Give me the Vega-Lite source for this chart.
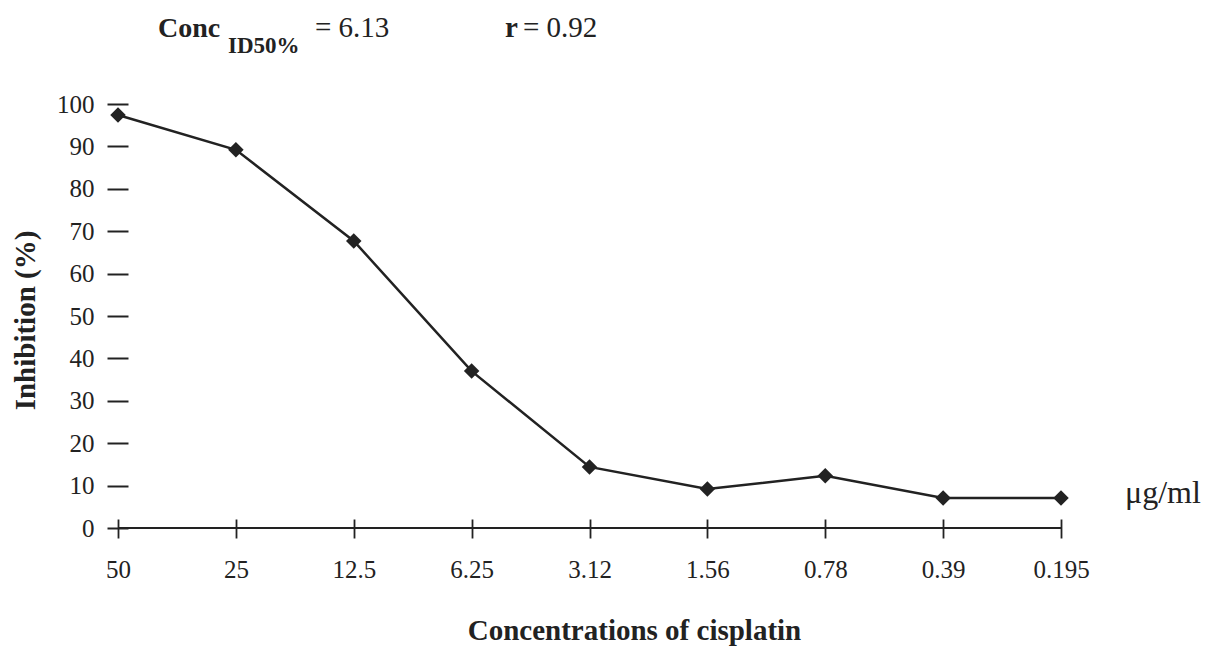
{
  "$schema": "https://vega.github.io/schema/vega-lite/v6.json",
  "autosize": "none",
  "width": 943,
  "height": 424,
  "padding": {"left": 118, "top": 104, "right": 145, "bottom": 118},
  "background": "white",
  "config": {
    "view": {"stroke": null},
    "font": "Liberation Serif",
    "axis": {"labelFont": "Liberation Serif", "titleFont": "Liberation Serif", "labelColor": "#222", "titleColor": "#222", "tickColor": "#222", "domainColor": "#222", "grid": false}
  },
  "datasets": {
    "points": [
      {"conc": "50", "inhibition": 97.4},
      {"conc": "25", "inhibition": 89.2},
      {"conc": "12.5", "inhibition": 67.7},
      {"conc": "6.25", "inhibition": 37.0},
      {"conc": "3.12", "inhibition": 14.4},
      {"conc": "1.56", "inhibition": 9.2},
      {"conc": "0.78", "inhibition": 12.3},
      {"conc": "0.39", "inhibition": 7.1},
      {"conc": "0.195", "inhibition": 7.1}
    ]
  },
  "layer": [
    {
      "data": {"name": "points"},
      "mark": {"type": "line", "color": "#222", "strokeWidth": 2.5},
      "encoding": {
        "x": {
          "field": "conc", "type": "nominal", "sort": null,
          "scale": {"type": "point", "padding": 0},
          "axis": {"title": "Concentrations of cisplatin", "labelAngle": 0, "domain": false, "ticks": true, "tickSize": 19, "offset": -9, "tickWidth": 1.8, "labelPadding": 19, "labelFontSize": 25, "titleFontSize": 29, "titleFontWeight": "bold", "titlePadding": 34, "titleX": 516, "titleAlign": "center"}
        },
        "y": {
          "field": "inhibition", "type": "quantitative",
          "scale": {"domain": [0, 100], "nice": false},
          "axis": {"title": "Inhibition (%)", "values": [0,10,20,30,40,50,60,70,80,90,100], "domain": false, "tickSize": 21, "offset": -10, "tickWidth": 2, "labelPadding": 13, "labelFontSize": 25, "titleFontSize": 29, "titleFontWeight": "bold", "titleX": -88, "titleY": 216, "titleBaseline": "bottom"}
        }
      }
    },
    {
      "data": {"name": "points"},
      "mark": {"type": "point", "shape": "diamond", "filled": true, "color": "#222", "opacity": 1, "size": 240},
      "encoding": {
        "x": {"field": "conc", "type": "nominal", "sort": null},
        "y": {"field": "inhibition", "type": "quantitative"}
      }
    },
    {
      "data": {"values": [{"level": 0}]},
      "mark": {"type": "rule", "color": "#222", "strokeWidth": 2},
      "encoding": {"y": {"field": "level", "type": "quantitative"}}
    },
    {
      "data": {"values": [{"conc": "0.195", "v": 7.1, "t": "μg/ml"}]},
      "mark": {"type": "text", "align": "left", "baseline": "alphabetic", "fontSize": 32, "dx": 64, "dy": 5, "color": "#222"},
      "encoding": {"x": {"field": "conc", "type": "nominal", "sort": null}, "y": {"field": "v", "type": "quantitative"}, "text": {"field": "t"}}
    },
    {
      "data": {"values": [{"conc": "50", "v": 100, "t": "Conc"}]},
      "mark": {"type": "text", "align": "left", "baseline": "alphabetic", "fontSize": 28, "fontWeight": "bold", "dx": 40, "dy": -67, "color": "#222"},
      "encoding": {"x": {"field": "conc", "type": "nominal", "sort": null}, "y": {"field": "v", "type": "quantitative"}, "text": {"field": "t"}}
    },
    {
      "data": {"values": [{"conc": "50", "v": 100, "t": "ID50%"}]},
      "mark": {"type": "text", "align": "left", "baseline": "alphabetic", "fontSize": 23, "fontWeight": "bold", "dx": 110, "dy": -51, "color": "#222"},
      "encoding": {"x": {"field": "conc", "type": "nominal", "sort": null}, "y": {"field": "v", "type": "quantitative"}, "text": {"field": "t"}}
    },
    {
      "data": {"values": [{"conc": "50", "v": 100, "t": "= 6.13"}]},
      "mark": {"type": "text", "align": "left", "baseline": "alphabetic", "fontSize": 29, "dx": 197, "dy": -67, "color": "#222"},
      "encoding": {"x": {"field": "conc", "type": "nominal", "sort": null}, "y": {"field": "v", "type": "quantitative"}, "text": {"field": "t"}}
    },
    {
      "data": {"values": [{"conc": "50", "v": 100, "t": "r"}]},
      "mark": {"type": "text", "align": "left", "baseline": "alphabetic", "fontSize": 29, "fontWeight": "bold", "dx": 387, "dy": -67, "color": "#222"},
      "encoding": {"x": {"field": "conc", "type": "nominal", "sort": null}, "y": {"field": "v", "type": "quantitative"}, "text": {"field": "t"}}
    },
    {
      "data": {"values": [{"conc": "50", "v": 100, "t": "= 0.92"}]},
      "mark": {"type": "text", "align": "left", "baseline": "alphabetic", "fontSize": 29, "dx": 405, "dy": -67, "color": "#222"},
      "encoding": {"x": {"field": "conc", "type": "nominal", "sort": null}, "y": {"field": "v", "type": "quantitative"}, "text": {"field": "t"}}
    }
  ]
}
